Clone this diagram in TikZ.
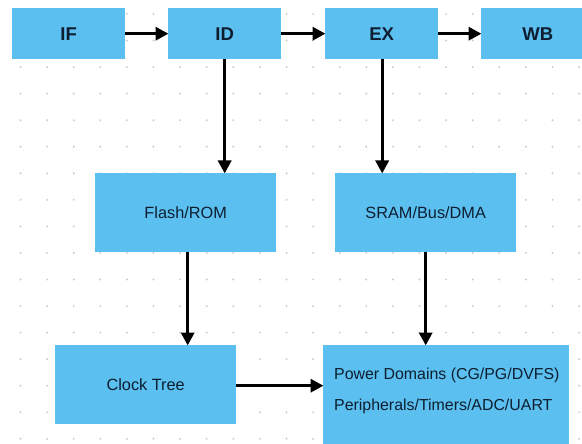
\documentclass[tikz,border=0pt]{standalone}
\usepackage{fontspec}
\setmainfont{Liberation Sans}
\usetikzlibrary{arrows.meta}
\definecolor{boxblue}{HTML}{5BC0F0}
\definecolor{textdark}{HTML}{0E1E30}
\definecolor{dotgray}{HTML}{C9CDD1}
\tikzset{
  box/.style={draw=none, fill=boxblue, inner sep=0pt, anchor=north west, text=textdark,
    font=\fontsize{16.3}{19}\selectfont},
  head/.style={box, minimum width=113pt, minimum height=51pt, font=\fontsize{18.5}{21}\selectfont\bfseries},
  mid/.style={box, minimum width=181pt, minimum height=79pt},
  txt/.style={inner sep=0pt, text=textdark, font=\fontsize{15.9}{19}\selectfont, anchor=west},
  link/.style={draw=black, line width=3.2pt, -{Triangle[length=13pt,width=13pt]}, shorten >=-0.5pt}
}
\begin{document}
\begin{tikzpicture}[x=1pt,y=-1pt]
\useasboundingbox (0,0) rectangle (582,444);
\clip (0,0) rectangle (582,444);
\fill[white] (0,0) rectangle (582,444);
% dot grid
\foreach \i in {0,...,21}{
  \foreach \j in {0,...,16}{
    \fill[dotgray] (20.5+26.6*\i, 14+26.55*\j) circle (1.1pt);
  }
}
% pipeline
\node[head] (IF) at (12,8) {IF};
\node[head] (ID) at (168,8) {ID};
\node[head] (EX) at (325,8) {EX};
\node[head] (WB) at (481,8) {WB};
% memory
\node[mid] (Flash) at (95,173) {Flash/ROM};
\node[mid] (SRAM) at (335,173) {SRAM/Bus/DMA};
% bottom
\node[box, minimum width=181pt, minimum height=79pt] (Clock) at (55,345) {Clock Tree};
\node[box, minimum width=246pt, minimum height=115pt] (Power) at (323,345) {};
\node[txt] (P1) at (334,375) {Power Domains (CG/PG/DVFS)};
\node[txt] (P2) at (334,406) {Peripherals/Timers/ADC/UART};
% connectors
\draw[link] (IF.east) -- (ID.west);
\draw[link] (ID.east) -- (EX.west);
\draw[link] (EX.east) -- (WB.west);
\draw[link] (ID.south) -- (ID.south |- Flash.north);
\draw[link] ([xshift=0.5pt]EX.south) -- ([xshift=0.5pt]EX.south |- SRAM.north);
\draw[link] ([xshift=2pt]Flash.south) -- ([xshift=2pt]Flash.south |- Clock.north);
\draw[link] (SRAM.south) -- (SRAM.south |- Power.north);
\draw[link] ([yshift=-1pt]Clock.east) -- ([yshift=-1pt]Clock.east -| Power.west);
\end{tikzpicture}
\end{document}
